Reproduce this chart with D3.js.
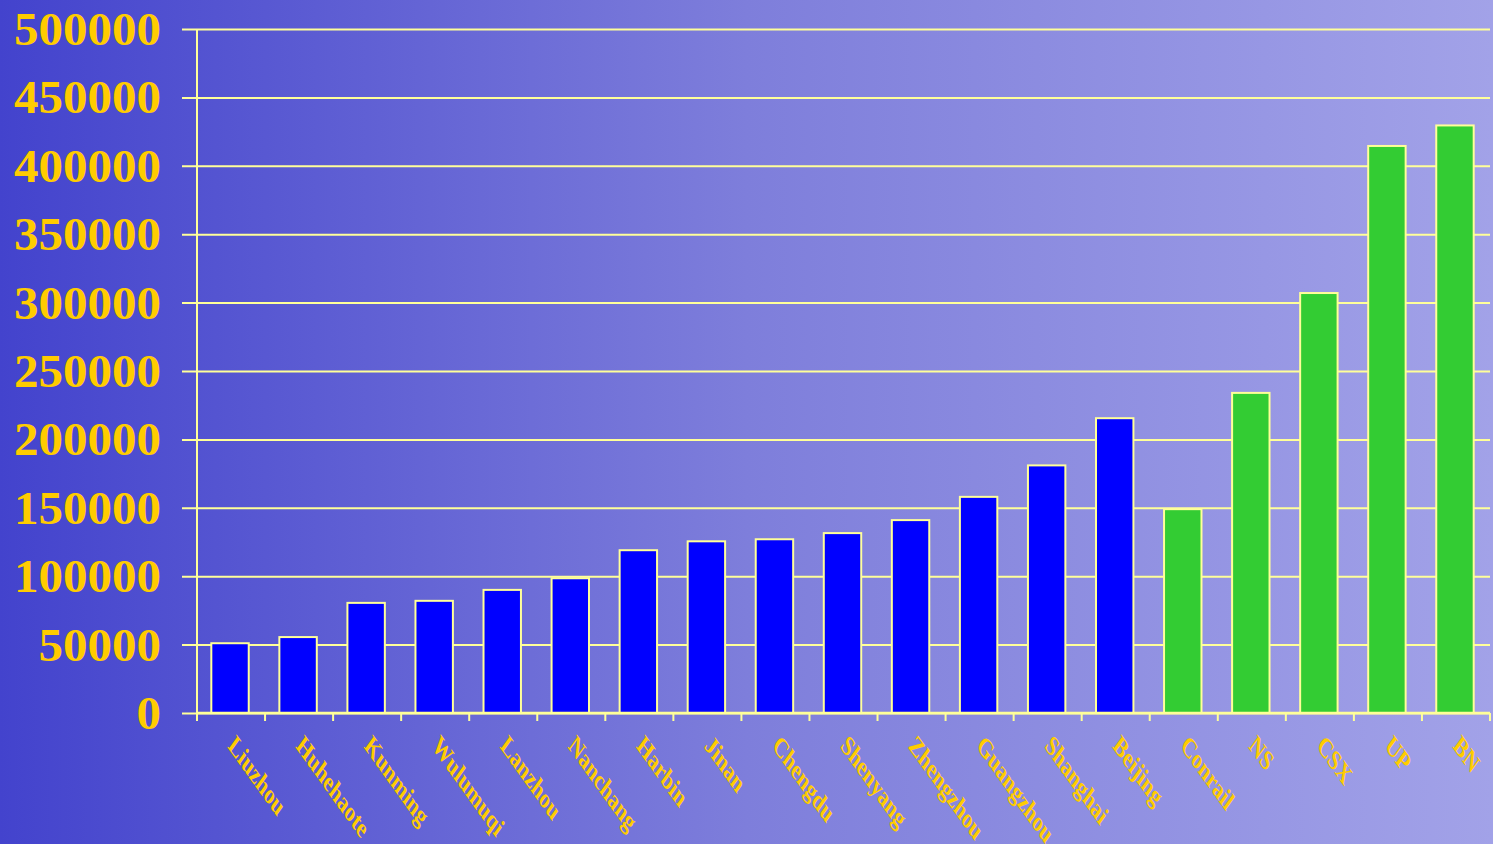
<!DOCTYPE html>
<html>
<head>
<meta charset="utf-8">
<script src="https://cdn.jsdelivr.net/npm/d3@7"></script>
<style>
  html, body { margin: 0; padding: 0; overflow: hidden; }
  svg { display: block; }
</style>
</head>
<body>
<div id="chart"></div>
<script>
// values
const categories = ["Liuzhou", "Huhehaote", "Kunming", "Wulumuqi", "Lanzhou", "Nanchang",
    "Harbin", "Jinan", "Chengdu", "Shenyang", "Zhengzhou", "Guangzhou", "Shanghai", "Beijing",
    "Conrail", "NS", "CSX", "UP", "BN"];
const values = [51000, 55500, 80500, 82000, 90000, 98500, 119000, 125500, 127000, 131500,
    141000, 158000, 181000, 215500, 149000, 234000, 307000, 414500, 429500];
const groups = ["cn", "cn", "cn", "cn", "cn", "cn", "cn", "cn", "cn", "cn", "cn", "cn", "cn", "cn",
    "us", "us", "us", "us", "us"];
const yTicks = [0, 50000, 100000, 150000, 200000, 250000, 300000, 350000, 400000, 450000, 500000];

const width = 1493,
      height = 844;
const plotLeft = 197, plotRight = 1490, plotTop = 29, plotBottom = 713;
const grid = "#ffff99", gold = "#ffcc00";

var svg = d3.select("#chart").append("svg")
    .attr("width", width)
    .attr("height", height);

/** background gradient, dark blue on the left to lavender on the right */
var grad = svg.append("defs").append("linearGradient")
    .attr("id", "bg")
    .attr("x1", "0%").attr("x2", "100%")
    .attr("y1", "0%").attr("y2", "0%");
grad.append("stop").attr("offset", "0%").attr("stop-color", "#4343cd");
grad.append("stop").attr("offset", "50%").attr("stop-color", "#7e7edb");
grad.append("stop").attr("offset", "100%").attr("stop-color", "#a2a2e8");
svg.append("rect").attr("width", width).attr("height", height).attr("fill", "url(#bg)");

var y = d3.scaleLinear().domain([0, 500000]).range([plotBottom, plotTop]);
var x = d3.scaleBand().domain(categories).range([plotLeft, plotRight])
    .paddingInner(0.45).paddingOuter(0.225);
var xb = d3.scaleBand().domain(categories).range([plotLeft, plotRight]).padding(0);
var color = d3.scaleOrdinal().domain(["cn", "us"]).range(["#0000ff", "#33cc33"]);

// y axis with full-width gridlines
var yAxis = svg.append("g")
    .attr("transform", `translate(${plotLeft - 15},0)`)
    .call(d3.axisLeft(y).tickValues(yTicks).tickFormat(d3.format("d"))
        .tickSizeInner(-(plotRight - plotLeft + 15)).tickSizeOuter(0).tickPadding(21));
yAxis.select(".domain").remove();
yAxis.selectAll(".tick line").attr("stroke", grid).attr("stroke-width", 2);
yAxis.selectAll(".tick text")
    .attr("fill", gold)
    .attr("font-family", "'Liberation Serif', 'Times New Roman', serif")
    .attr("font-weight", "bold")
    .attr("font-size", 47)
    .attr("textLength", d => String(d).length * 24.5)
    .attr("lengthAdjust", "spacingAndGlyphs")
    .attr("dy", "0.33em");

// vertical axis line
svg.append("line")
    .attr("x1", plotLeft).attr("x2", plotLeft)
    .attr("y1", y(500000)).attr("y2", y(0))
    .attr("stroke", grid).attr("stroke-width", 2);

// bars
svg.append("g").selectAll("rect")
    .data(categories)
    .join("rect")
    .attr("x", d => x(d) - 1)
    .attr("y", (d, i) => y(values[i]))
    .attr("width", x.bandwidth())
    .attr("height", (d, i) => y(0) - y(values[i]))
    .attr("fill", (d, i) => color(groups[i]))
    .attr("stroke", grid)
    .attr("stroke-width", 2);

// bottom axis line and ticks at band boundaries
svg.append("line")
    .attr("x1", plotLeft).attr("x2", plotRight)
    .attr("y1", y(0)).attr("y2", y(0))
    .attr("stroke", grid).attr("stroke-width", 2.5);
svg.append("g").selectAll("line")
    .data(categories.map(c => xb(c)).concat([plotRight]))
    .join("line")
    .attr("x1", d => d).attr("x2", d => d)
    .attr("y1", y(0)).attr("y2", y(0) + 8)
    .attr("stroke", grid).attr("stroke-width", 2);

// rotated category labels (45deg then stretched vertically, like the original slide)
svg.append("g").selectAll("text")
    .data(categories)
    .join("text")
    .attr("transform", d => `translate(${xb(d) + xb.bandwidth() / 2 + 1},740) scale(1,1.4) rotate(45)`)
    .attr("text-anchor", "start")
    .attr("dy", "0.35em")
    .attr("fill", gold)
    .attr("font-family", "'Liberation Serif', 'Times New Roman', serif")
    .attr("font-weight", "bold")
    .attr("font-size", 20)
    .text(d => d);
</script>
</body>
</html>
